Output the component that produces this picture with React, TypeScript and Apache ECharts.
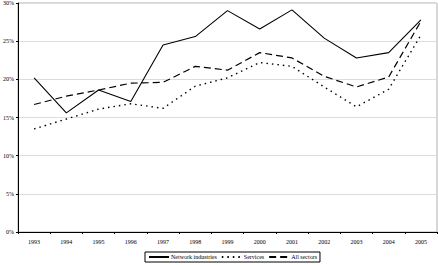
import React, { useEffect, useRef } from "react";
import * as echarts from "echarts";

const years = ["1993", "1994", "1995", "1996", "1997", "1998", "1999", "2000", "2001", "2002", "2003", "2004", "2005"];
const networkIndustries = [20.2, 15.6, 18.6, 17.1, 24.5, 25.6, 29.0, 26.6, 29.1, 25.4, 22.8, 23.5, 27.8];
const services = [13.5, 14.8, 16.1, 16.8, 16.2, 19.1, 20.2, 22.2, 21.7, 19.0, 16.4, 18.7, 25.8];
const allSectors = [16.7, 17.8, 18.6, 19.5, 19.6, 21.7, 21.2, 23.5, 22.8, 20.4, 19.0, 20.3, 27.6];
const yTicks = [0, 5, 10, 15, 20, 25, 30];

const FONT = "Liberation Serif";

export default function App() {
  const ref = useRef<HTMLDivElement>(null);

  useEffect(() => {
    if (!ref.current) return;
    const chart = echarts.init(ref.current, undefined, { renderer: "svg" });
    const lineSeries = (name: string, data: number[], type: any, width: number) => ({
      name,
      type: "line",
      data,
      symbol: "none",
      lineStyle: { color: "#000", width, type },
      itemStyle: { color: "#000" },
      emphasis: { disabled: true },
    });
    chart.setOption({
      animation: false,
      grid: {
        left: 15,
        right: 1,
        top: 0,
        bottom: 33,
        show: true,
        borderColor: "#b0b0b0",
        borderWidth: 1,
      },
      legend: {
        bottom: 3,
        left: 145,
        itemWidth: 20,
        itemHeight: 6,
        itemGap: 4,
        padding: [2, 3, 2, 3],
        borderColor: "#000",
        borderWidth: 1,
        borderRadius: 0,
        itemStyle: { color: "transparent", borderColor: "transparent", borderWidth: 0 },
        textStyle: { fontFamily: FONT, fontSize: 6, color: "#000", padding: [0, 0, 0, -3] },
        data: ["Network industries", "Services", "All sectors"],
      },
      xAxis: {
        type: "category",
        data: years,
        boundaryGap: true,
        axisLine: { lineStyle: { color: "#000", width: 1 } },
        axisTick: { show: true, length: 2, lineStyle: { color: "#000" } },
        axisLabel: { fontFamily: FONT, fontSize: 6, color: "#000", margin: 7 },
        splitLine: { show: false },
      },
      yAxis: {
        type: "value",
        min: 0,
        max: 30,
        interval: 5,
        axisLine: { show: true, lineStyle: { color: "#000", width: 1 } },
        axisTick: { show: true, length: 2, lineStyle: { color: "#000" } },
        axisLabel: {
          fontFamily: FONT,
          fontSize: 6,
          color: "#000",
          margin: 4,
          formatter: (v: number) => (yTicks.includes(v) ? `${v}%` : ""),
        },
        splitLine: { show: true, lineStyle: { color: "#dcdcdc", width: 1 } },
      },
      series: [
        lineSeries("Network industries", networkIndustries, "solid", 1.1),
        lineSeries("Services", services, [1.5, 4], 1.4),
        lineSeries("All sectors", allSectors, [7, 4], 1.2),
      ],
    });
    return () => chart.dispose();
  }, []);

  return <div ref={ref} style={{ width: 438, height: 265, position: "absolute", left: 0, top: 0, background: "#fff" }} />;
}
